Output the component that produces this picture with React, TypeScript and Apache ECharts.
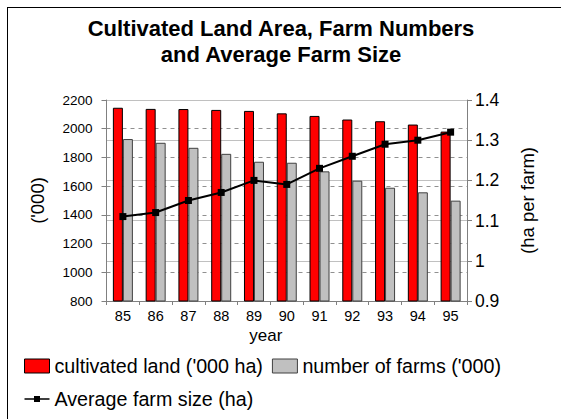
import React, { useEffect, useRef } from "react";
import * as echarts from "echarts";

const years = ["85", "86", "87", "88", "89", "90", "91", "92", "93", "94", "95"];
const cultivatedLand = [2146, 2138, 2137, 2131, 2124, 2107, 2089, 2064, 2052, 2029, 1980];
const farmNumbers = [1928, 1902, 1867, 1825, 1770, 1763, 1703, 1638, 1589, 1557, 1499];
const avgFarmSize = [1.11, 1.12, 1.15, 1.17, 1.2, 1.19, 1.23, 1.26, 1.29, 1.3, 1.32];
const leftTicks = { min: 800, max: 2200, interval: 200 };
const rightTicks = { min: 0.9, max: 1.4, interval: 0.1 };

const FONT = "'Liberation Sans', Arial, Helvetica, sans-serif";
const LINE_ICON = "path://M0,2.2L25,2.2L25,3.8L0,3.8ZM9.5,0L15.5,0L15.5,6L9.5,6Z";
const BOX_ICON = "path://M0,0L25,0L25,14L0,14Z";

export default function App() {
  const ref = useRef<HTMLDivElement>(null);
  useEffect(() => {
    if (!ref.current) return;
    const chart = echarts.init(ref.current, undefined, { renderer: "svg" });
    chart.setOption({
      animation: false,
      backgroundColor: "transparent",
      textStyle: { fontFamily: FONT },
      graphic: [
        {
          type: "text",
          x: 281,
          y: 15,
          style: {
            text: "Cultivated Land Area, Farm Numbers\nand Average Farm Size",
            textAlign: "center",
            textVerticalAlign: "top",
            fontFamily: FONT,
            fontWeight: "bold",
            fontSize: 22,
            lineHeight: 26,
            fill: "#000",
          },
        },
      ],
      grid: { left: 106.5, right: 94, top: 100, bottom: 118, containLabel: false },
      legend: {
        left: 24,
        top: 354,
        width: 500,
        padding: 0,
        itemWidth: 25,
        itemHeight: 14,
        itemGap: 9,
        textStyle: { fontSize: 19.7, lineHeight: 24, color: "#000", fontFamily: FONT },
        data: [
          {
            name: "cultivated land ('000 ha)",
            icon: BOX_ICON,
            itemStyle: { color: "#ff0000", borderColor: "#000", borderWidth: 1, borderJoin: "miter" },
          },
          {
            name: "number of farms ('000)",
            icon: BOX_ICON,
            itemStyle: { color: "#c0c0c0", borderColor: "#404040", borderWidth: 1, borderJoin: "miter" },
          },
          { name: "Average farm size (ha)", icon: LINE_ICON },
        ],
      },
      xAxis: {
        type: "category",
        data: years,
        name: "year",
        nameLocation: "middle",
        nameGap: 26,
        nameTextStyle: { fontSize: 17, color: "#000", padding: [0, 42, 0, 0], fontFamily: FONT },
        axisLine: { lineStyle: { color: "#808080", width: 1 } },
        axisTick: { show: true, length: 4, lineStyle: { color: "#808080" } },
        axisLabel: { fontSize: 14.5, color: "#000", margin: 7, fontFamily: FONT },
      },
      yAxis: [
        {
          type: "value",
          min: leftTicks.min,
          max: leftTicks.max,
          interval: leftTicks.interval,
          name: "('000)",
          nameLocation: "middle",
          nameRotate: 90,
          nameGap: 60,
          nameTextStyle: { fontSize: 18.5, color: "#000", fontFamily: FONT },
          axisLine: { show: true, lineStyle: { color: "#808080" } },
          axisTick: { show: true, length: 5, lineStyle: { color: "#808080" } },
          axisLabel: {
            fontSize: 13.5,
            color: "#000",
            margin: 14,
            fontFamily: FONT,
            formatter: (v: number) => String(v),
          },
          splitLine: { show: true, lineStyle: { color: "#909090", type: [4, 4], width: 1 } },
        },
        {
          type: "value",
          min: rightTicks.min,
          max: rightTicks.max,
          interval: rightTicks.interval,
          name: "(ha per farm)",
          nameLocation: "middle",
          nameRotate: 90,
          nameGap: 51,
          nameTextStyle: { fontSize: 18.5, color: "#000", fontFamily: FONT },
          axisLine: { show: true, lineStyle: { color: "#808080" } },
          axisTick: { show: true, length: 5, lineStyle: { color: "#808080" } },
          axisLabel: {
            fontSize: 17.5,
            color: "#000",
            margin: 8,
            fontFamily: FONT,
            formatter: (v: number) => String(Math.round(v * 10) / 10),
          },
          splitLine: { show: true, lineStyle: { color: "#c0c0c0", width: 1 } },
        },
      ],
      series: [
        {
          name: "cultivated land ('000 ha)",
          type: "bar",
          data: cultivatedLand,
          barWidth: 10,
          barGap: "0%",
          itemStyle: { color: "#ff0000", borderColor: "#000", borderWidth: 1 },
        },
        {
          name: "number of farms ('000)",
          type: "bar",
          data: farmNumbers,
          barWidth: 10,
          barGap: "0%",
          itemStyle: { color: "#c0c0c0", borderColor: "#404040", borderWidth: 1 },
        },
        {
          name: "Average farm size (ha)",
          type: "line",
          yAxisIndex: 1,
          data: avgFarmSize,
          symbol: "rect",
          symbolSize: 7,
          lineStyle: { color: "#000", width: 2 },
          itemStyle: { color: "#000", borderWidth: 0 },
        },
      ],
    });
    return () => chart.dispose();
  }, []);

  return (
    <div style={{ position: "fixed", left: 0, top: 0, width: 561, height: 419, background: "#fff" }}>
      <div
        style={{
          position: "absolute",
          left: 7,
          top: 7,
          width: 700,
          height: 600,
          borderTop: "1px solid #000",
          borderLeft: "1px solid #000",
        }}
      />
      <div ref={ref} style={{ position: "absolute", left: 0, top: 0, width: 561, height: 419 }} />
    </div>
  );
}
